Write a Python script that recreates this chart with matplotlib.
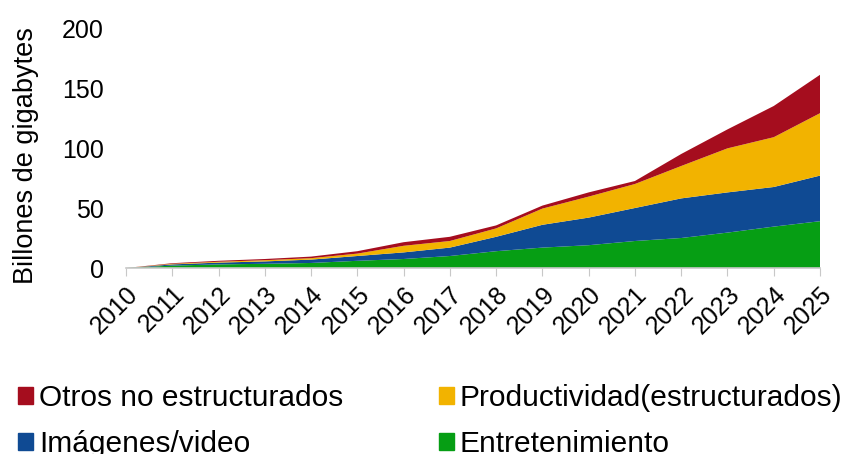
import matplotlib
matplotlib.use("Agg")
import matplotlib.pyplot as plt
from matplotlib.patches import Patch

plt.rcParams['font.family'] = ['Liberation Sans', 'DejaVu Sans']

years = list(range(2010, 2026))
entretenimiento = [0, 2.0, 3.0, 3.5, 4.2, 6.0, 7.5, 10.0, 14.0, 17.0, 19.0, 22.5, 25.0, 29.5, 34.5, 39.0]
imagenes_video = [0, 1.0, 1.5, 2.0, 2.8, 4.0, 5.5, 7.0, 12.0, 19.0, 23.0, 27.5, 33.0, 33.5, 33.0, 38.0]
productividad = [0, 0.5, 0.7, 1.0, 1.2, 2.0, 5.5, 5.5, 7.0, 13.5, 17.5, 20.0, 27.0, 36.7, 41.5, 52.0]
otros = [0, 0.5, 0.8, 1.0, 1.3, 2.0, 3.0, 3.5, 2.5, 2.5, 3.5, 2.5, 10.0, 15.8, 26.0, 32.0]

labels = ["Entretenimiento", "Imágenes/video", "Productividad(estructurados)", "Otros no estructurados"]
colors = ["#069E14", "#0F4A93", "#F2B300", "#A50D1E"]

fig = plt.figure(figsize=(8.52, 4.54), dpi=100)
ax = fig.add_axes([126/852, 1 - 268/454, (820-126)/852, (268-28)/454])

ax.stackplot(years, entretenimiento, imagenes_video, productividad, otros,
             colors=colors, linewidth=0)

ax.set_xlim(2010, 2025)
ax.set_ylim(0, 200)
ax.set_yticks([0, 50, 100, 150, 200])
ax.set_xticks(years)
ax.set_xticklabels([str(y) for y in years], rotation=45, ha='right', va='top',
                   rotation_mode='anchor')
ax.tick_params(axis='y', length=0, labelsize=18, pad=16)
ax.tick_params(axis='x', length=6, color='#C8C8C8', labelsize=18, pad=4)
for s in ['top', 'right', 'left']:
    ax.spines[s].set_visible(False)
ax.spines['bottom'].set_color('#C8C8C8')
ax.spines['bottom'].set_linewidth(1.2)
ax.set_ylabel("Billones de gigabytes", fontsize=19.5)
ax.yaxis.set_label_coords((39 - 126) / 694, (268 - 156) / 240)

handles = [Patch(color=colors[3], label=labels[3]),
           Patch(color=colors[1], label=labels[1]),
           Patch(color=colors[2], label=labels[2]),
           Patch(color=colors[0], label=labels[0])]
fig.legend(handles=handles, loc='upper left', bbox_to_anchor=(-6/852, 1 - 360/454), ncol=2,
           frameon=False, fontsize=21.5, handlelength=0.5, handleheight=0.5,
           handletextpad=0.2, columnspacing=3.2, labelspacing=0.6, borderpad=0.3)

fig.savefig("out.png", dpi=100)
